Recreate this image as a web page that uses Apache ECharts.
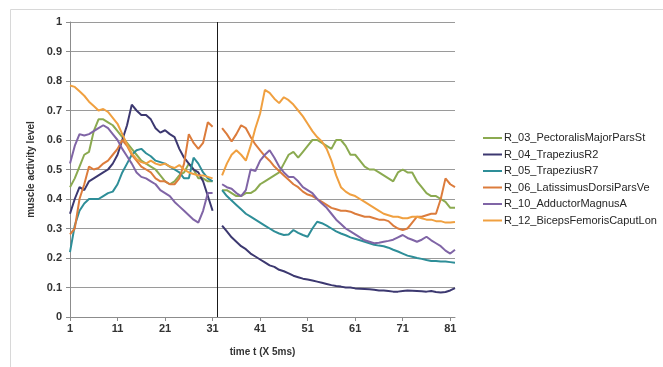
<!DOCTYPE html>
<html>
<head>
<meta charset="utf-8">
<script src="https://cdn.jsdelivr.net/npm/echarts@6/dist/echarts.min.js"></script>
<style>
html, body { margin: 0; padding: 0; background: #fff; }
#chart { width: 663px; height: 367px; }
</style>
</head>
<body>
<div id="chart"></div>
<script>
// time steps 1..82, step 32 is the gap where the marker line sits
var steps = [];
for (var i = 1; i <= 82; i++) steps.push(String(i));

var seriesNames = [
	'R_03_PectoralisMajorParsSt',
	'R_04_TrapeziusR2',
	'R_05_TrapeziusR7',
	'R_06_LatissimusDorsiParsVe',
	'R_10_AdductorMagnusA',
	'R_12_BicepsFemorisCaputLon'
];
var seriesColors = ['#8BAA50', '#3C3870', '#2E8E98', '#DC7C3C', '#8065A6', '#F0A040'];

// values before the gap (steps 1..31) and after it (steps 33..82)
var r03Before = [0.44, 0.47, 0.51, 0.55, 0.56, 0.63, 0.67, 0.67, 0.66, 0.65, 0.63, 0.61, 0.59, 0.57, 0.55, 0.53, 0.52, 0.51, 0.50, 0.48, 0.46, 0.45, 0.46, 0.48, 0.49, 0.52, 0.50, 0.47, 0.47, 0.46, 0.46];
var r03After = [0.43, 0.43, 0.42, 0.41, 0.41, 0.42, 0.42, 0.43, 0.45, 0.46, 0.47, 0.48, 0.49, 0.52, 0.55, 0.56, 0.54, 0.56, 0.58, 0.60, 0.60, 0.59, 0.58, 0.57, 0.60, 0.60, 0.58, 0.55, 0.55, 0.53, 0.51, 0.50, 0.50, 0.49, 0.48, 0.47, 0.46, 0.49, 0.50, 0.49, 0.49, 0.46, 0.44, 0.42, 0.41, 0.41, 0.40, 0.39, 0.37, 0.37];

var r04Before = [0.35, 0.40, 0.44, 0.43, 0.46, 0.47, 0.48, 0.49, 0.50, 0.52, 0.55, 0.60, 0.65, 0.72, 0.70, 0.685, 0.685, 0.67, 0.64, 0.625, 0.633, 0.62, 0.61, 0.57, 0.54, 0.52, 0.50, 0.49, 0.46, 0.41, 0.36];
var r04After = [0.31, 0.29, 0.27, 0.255, 0.24, 0.23, 0.215, 0.205, 0.195, 0.185, 0.175, 0.17, 0.16, 0.155, 0.148, 0.14, 0.135, 0.13, 0.127, 0.124, 0.12, 0.116, 0.112, 0.108, 0.105, 0.103, 0.10, 0.10, 0.097, 0.096, 0.095, 0.094, 0.092, 0.09, 0.09, 0.088, 0.086, 0.086, 0.088, 0.09, 0.089, 0.088, 0.087, 0.086, 0.088, 0.085, 0.083, 0.085, 0.09, 0.098];

var r05Before = [0.22, 0.31, 0.36, 0.385, 0.40, 0.40, 0.40, 0.41, 0.42, 0.425, 0.45, 0.49, 0.52, 0.55, 0.565, 0.57, 0.555, 0.545, 0.53, 0.525, 0.52, 0.51, 0.50, 0.49, 0.47, 0.47, 0.54, 0.52, 0.49, 0.47, 0.46];
var r05After = [0.43, 0.41, 0.395, 0.38, 0.365, 0.35, 0.34, 0.33, 0.32, 0.31, 0.30, 0.29, 0.283, 0.278, 0.28, 0.295, 0.285, 0.278, 0.272, 0.30, 0.323, 0.318, 0.31, 0.30, 0.29, 0.283, 0.277, 0.27, 0.265, 0.26, 0.255, 0.25, 0.245, 0.242, 0.24, 0.235, 0.228, 0.222, 0.215, 0.208, 0.204, 0.20, 0.197, 0.193, 0.19, 0.19, 0.188, 0.188, 0.186, 0.184];

var r06Before = [0.28, 0.30, 0.40, 0.45, 0.51, 0.50, 0.505, 0.52, 0.53, 0.55, 0.57, 0.60, 0.58, 0.55, 0.53, 0.51, 0.50, 0.49, 0.47, 0.46, 0.46, 0.45, 0.45, 0.47, 0.52, 0.62, 0.59, 0.57, 0.59, 0.66, 0.645];
var r06After = [0.64, 0.62, 0.595, 0.62, 0.65, 0.64, 0.61, 0.585, 0.565, 0.545, 0.53, 0.51, 0.495, 0.48, 0.465, 0.45, 0.44, 0.425, 0.415, 0.41, 0.40, 0.39, 0.38, 0.37, 0.365, 0.36, 0.36, 0.357, 0.35, 0.345, 0.34, 0.34, 0.335, 0.33, 0.33, 0.325, 0.31, 0.30, 0.295, 0.30, 0.32, 0.34, 0.34, 0.345, 0.35, 0.35, 0.40, 0.47, 0.45, 0.44];

var r10Before = [0.52, 0.58, 0.62, 0.615, 0.62, 0.63, 0.64, 0.65, 0.64, 0.62, 0.60, 0.57, 0.545, 0.52, 0.49, 0.475, 0.47, 0.46, 0.45, 0.43, 0.42, 0.41, 0.39, 0.375, 0.36, 0.345, 0.33, 0.32, 0.36, 0.42, 0.42];
var r10After = [0.45, 0.44, 0.435, 0.42, 0.41, 0.43, 0.50, 0.495, 0.53, 0.55, 0.565, 0.54, 0.51, 0.49, 0.475, 0.475, 0.46, 0.44, 0.43, 0.42, 0.40, 0.385, 0.37, 0.35, 0.33, 0.315, 0.30, 0.29, 0.28, 0.27, 0.26, 0.255, 0.25, 0.252, 0.255, 0.258, 0.262, 0.27, 0.278, 0.268, 0.262, 0.255, 0.262, 0.272, 0.26, 0.25, 0.24, 0.225, 0.215, 0.228];

var r12Before = [0.785, 0.78, 0.765, 0.75, 0.73, 0.715, 0.70, 0.705, 0.695, 0.675, 0.655, 0.62, 0.585, 0.555, 0.535, 0.525, 0.52, 0.53, 0.52, 0.515, 0.52, 0.51, 0.505, 0.515, 0.50, 0.49, 0.485, 0.48, 0.48, 0.475, 0.47];
var r12After = [0.48, 0.52, 0.55, 0.565, 0.55, 0.53, 0.58, 0.64, 0.69, 0.77, 0.76, 0.74, 0.725, 0.745, 0.735, 0.72, 0.70, 0.68, 0.655, 0.63, 0.61, 0.595, 0.57, 0.53, 0.48, 0.44, 0.425, 0.415, 0.41, 0.40, 0.39, 0.38, 0.37, 0.36, 0.35, 0.345, 0.34, 0.34, 0.335, 0.335, 0.34, 0.34, 0.335, 0.33, 0.33, 0.325, 0.325, 0.32, 0.32, 0.322];

var yTicks = [0, 0.1, 0.2, 0.3, 0.4, 0.5, 0.6, 0.7, 0.8, 0.9, 1];
var gapStep = '32';

var seriesData = [
	r03Before.concat([null], r03After),
	r04Before.concat([null], r04After),
	r05Before.concat([null], r05After),
	r06Before.concat([null], r06After),
	r10Before.concat([null], r10After),
	r12Before.concat([null], r12After)
];

var labelFont = 'Liberation Sans';

var series = [];
for (var k = 0; k < seriesNames.length; k++) {
	var s = {
		name : seriesNames[k],
		type : 'line',
		data : seriesData[k],
		showSymbol : false,
		symbol : 'none',
		connectNulls : false,
		lineStyle : {
			width : 2,
			color : seriesColors[k]
		},
		itemStyle : {
			color : seriesColors[k]
		},
		z : 3
	};
	if (k === 0) {
		// vertical separator at the gap
		s.markLine = {
			silent : true,
			symbol : 'none',
			label : { show : false },
			lineStyle : { color : '#1a1a1a', width : 1, type : 'solid' },
			data : [ { xAxis : gapStep } ]
		};
	}
	series.push(s);
}

var option = {
	animation : false,
	backgroundColor : '#ffffff',
	textStyle : { fontFamily : labelFont },
	graphic : [ {
		type : 'rect',
		shape : { x : 10.5, y : 9.5, width : 660, height : 365 },
		style : { fill : 'none', stroke : '#d8d8d8', lineWidth : 1 },
		silent : true
	} ],
	grid : {
		left : 70,
		right : 208,
		top : 22,
		bottom : 50
	},
	legend : {
		orient : 'vertical',
		left : 478,
		top : 126,
		itemWidth : 19,
		itemHeight : 2,
		itemGap : 2.5,
		icon : 'rect',
		data : seriesNames,
		textStyle : {
			fontFamily : labelFont,
			fontSize : 11,
			color : '#262626',
			lineHeight : 14,
			padding : [0, 0, 0, -3]
		}
	},
	xAxis : {
		type : 'category',
		data : steps,
		boundaryGap : false,
		name : 'time t (X 5ms)',
		nameLocation : 'middle',
		nameGap : 30,
		nameTextStyle : {
			fontFamily : labelFont,
			fontSize : 10,
			fontWeight : 'bold',
			color : '#333'
		},
		axisLine : { lineStyle : { color : '#8c8c8c', width : 1 } },
		axisTick : { show : true, interval : 9, length : 4, lineStyle : { color : '#8c8c8c' } },
		axisLabel : {
			interval : 9,
			margin : 6,
			fontSize : 11,
			fontWeight : 'bold',
			color : '#333'
		},
		splitLine : { show : false }
	},
	yAxis : {
		type : 'value',
		min : yTicks[0],
		max : yTicks[yTicks.length - 1],
		interval : 0.1,
		name : 'muscle activity level',
		nameLocation : 'middle',
		nameGap : 28,
		nameTextStyle : {
			fontFamily : labelFont,
			fontSize : 10,
			fontWeight : 'bold',
			color : '#333'
		},
		axisLine : { show : true, lineStyle : { color : '#8c8c8c', width : 1 } },
		axisTick : { show : true, length : 4, lineStyle : { color : '#8c8c8c' } },
		axisLabel : {
			margin : 8,
			fontSize : 11,
			fontWeight : 'bold',
			color : '#333',
			formatter : function(v) {
				return String(Math.round(v * 10) / 10);
			}
		},
		splitLine : { show : true, lineStyle : { color : '#9a9a9a', width : 1 } }
	},
	series : series
};

var myChart = echarts.init(document.getElementById('chart'), null, { renderer : 'canvas' });
myChart.setOption(option);
</script>
</body>
</html>
